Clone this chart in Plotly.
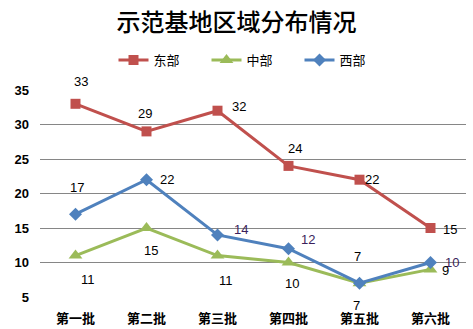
import plotly.graph_objects as go

categories = ["第一批", "第二批", "第三批", "第四批", "第五批", "第六批"]
east = [33, 29, 32, 24, 22, 15]
mid = [11, 15, 11, 10, 7, 9]
west = [17, 22, 14, 12, 7, 10]
y_ticks = [5, 10, 15, 20, 25, 30, 35]

# label offsets (pixels) per point
east_off = [(5, 22), (-2, 18), (21, 4), (6, 17), (12, 0), (19, -1)]
west_off = [(1, 27), (20, 0), (23, 5), (19, 9), (-2, 27), (21, 0)]
mid_off = [(12, -24), (4, -22), (8, -25), (3, -21), (-3, -22), (15, -1)]
west_col = ["#000000", "#000000", "#3B1F5C", "#3B1F5C", "#000000", "#3B1F5C"]

C_E, C_M, C_W = "#C0504D", "#9BBB59", "#4F81BD"
FONT = "Noto Sans CJK SC"

fig = go.Figure()
fig.add_trace(go.Scatter(x=categories, y=east, name="东部", mode="lines+markers",
                         line=dict(color=C_E, width=3),
                         marker=dict(symbol="square", size=10, color=C_E)))
fig.add_trace(go.Scatter(x=categories, y=mid, name="中部", mode="lines+markers",
                         line=dict(color=C_M, width=3),
                         marker=dict(symbol="triangle-up", size=12, color=C_M)))
fig.add_trace(go.Scatter(x=categories, y=west, name="西部", mode="lines+markers",
                         line=dict(color=C_W, width=3),
                         marker=dict(symbol="diamond", size=10, color=C_W)))

ann = []
for vals, offs, cols in [(east, east_off, ["#000"] * 6), (west, west_off, west_col),
                         (mid, mid_off, ["#000"] * 6)]:
    for c, v, (dx, dy), col in zip(categories, vals, offs, cols):
        ann.append(dict(x=c, y=v, text=str(v), showarrow=False, xshift=dx, yshift=dy,
                        font=dict(family="Liberation Sans", size=13, color=col)))

fig.update_layout(
    width=473, height=329,
    margin=dict(l=40, r=7, t=90, b=32),
    paper_bgcolor="white", plot_bgcolor="white",
    title=dict(text="示范基地区域分布情况", x=0.5, xanchor="center", y=0.93, yanchor="middle",
               font=dict(family=FONT, size=24, color="#000", weight=500)),
    legend=dict(orientation="h", x=0.5, xanchor="center", y=1.145, yanchor="middle",
                font=dict(family=FONT, size=13, color="#000"), itemwidth=30,
                entrywidth=48, traceorder="normal"),
    showlegend=True,
    annotations=ann,
    xaxis=dict(showgrid=False, showline=False, ticks="", zeroline=False, automargin=False,
               tickfont=dict(family=FONT, size=13, color="#000", weight="bold"),
               ticklabelstandoff=12, range=[-0.5, 5.5]),
    yaxis=dict(range=[5, 35], tickvals=y_ticks, showgrid=True, gridcolor="#868686",
               gridwidth=1, zeroline=False, showline=False, ticks="", automargin=False,
               ticklabelstandoff=10,
               tickfont=dict(family="Liberation Sans", size=13, color="#000", weight="bold")),
)
fig.write_html("out.html")
